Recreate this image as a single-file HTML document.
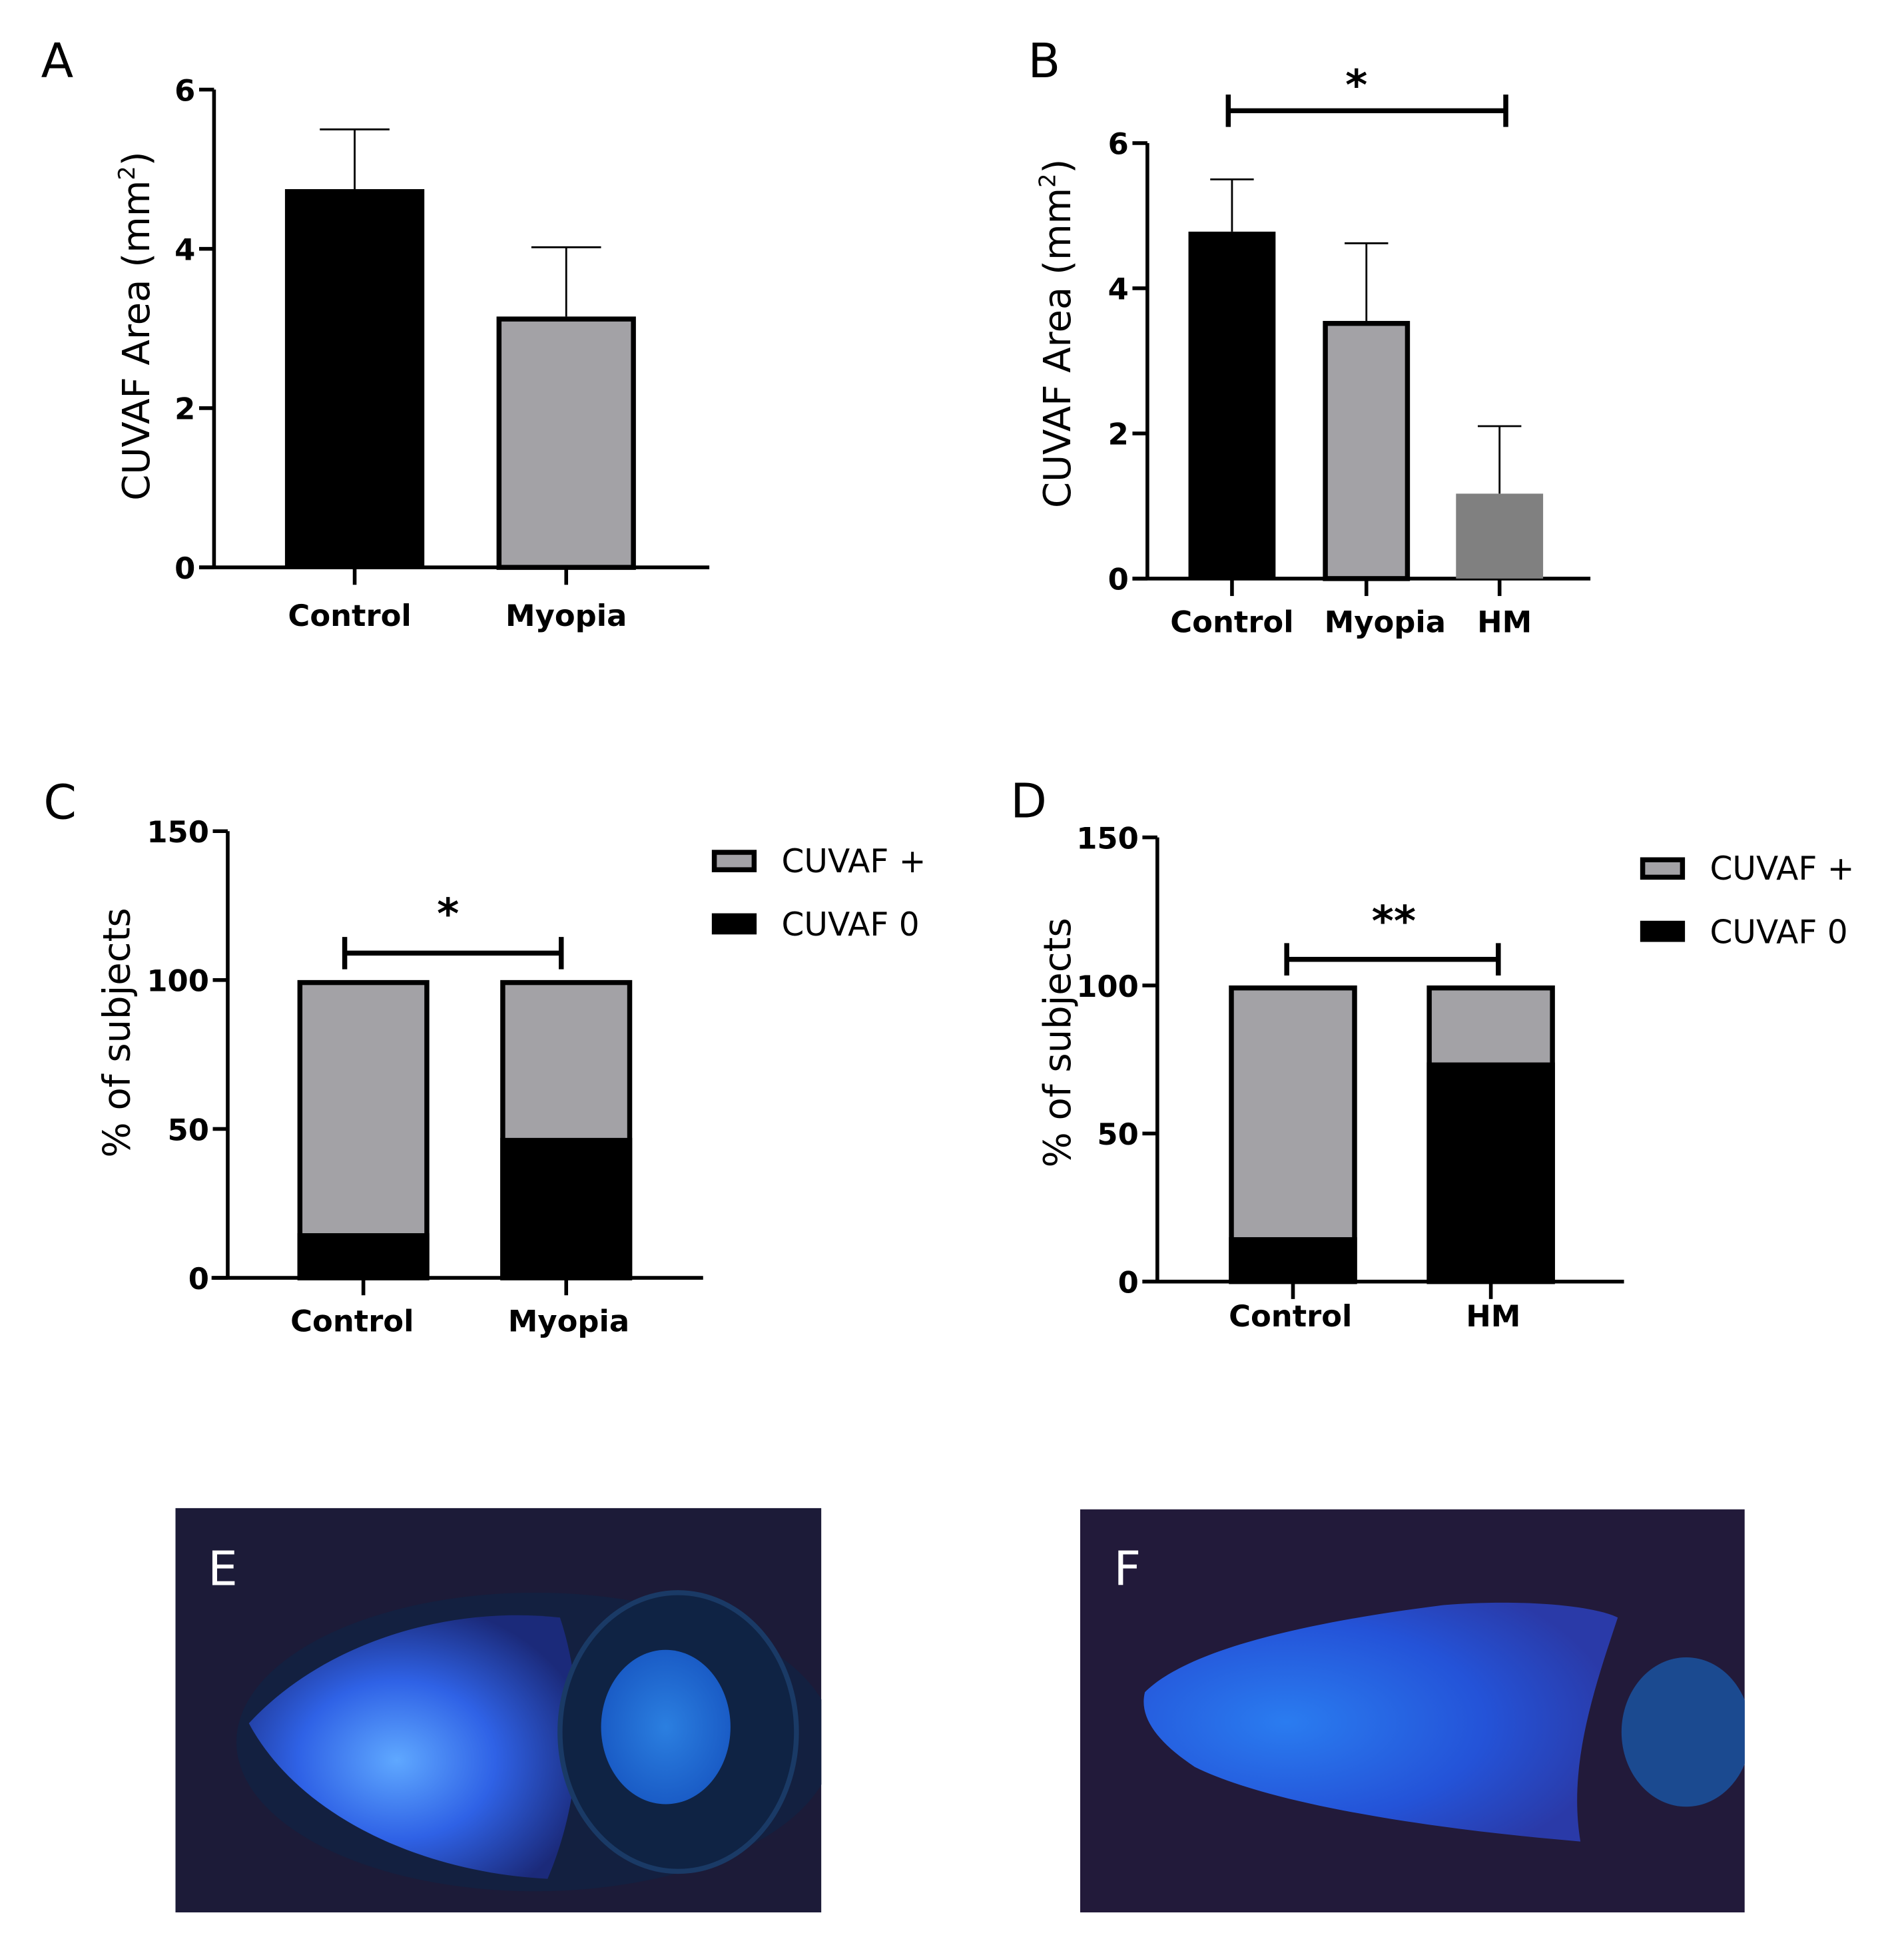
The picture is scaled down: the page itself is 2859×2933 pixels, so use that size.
<!DOCTYPE html>
<html><head><meta charset="utf-8"><style>
html,body{margin:0;padding:0;background:#fff;}
svg{display:block;font-family:"Liberation Sans","DejaVu Sans",sans-serif;}
.tick{font-weight:bold;font-size:24px;font-family:"DejaVu Sans","Liberation Sans",sans-serif;}
.cat{font-weight:bold;font-size:24px;font-family:"DejaVu Sans","Liberation Sans",sans-serif;}
.ytitle{font-size:30px;font-family:"DejaVu Sans","Liberation Sans",sans-serif;}
.panel{font-size:38px;font-family:"DejaVu Sans","Liberation Sans",sans-serif;}
.leg{font-size:26px;font-family:"DejaVu Sans","Liberation Sans",sans-serif;}
</style></head><body>
<svg id="fig" width="2859" height="2933" viewBox="0 0 1530 1569.6" xmlns="http://www.w3.org/2000/svg">
<defs>
<radialGradient id="gE" cx="0.45" cy="0.55" r="0.6">
<stop offset="0" stop-color="#5fa8ff"/><stop offset="0.5" stop-color="#2f62e6"/><stop offset="1" stop-color="#1b2a7a"/></radialGradient>
<radialGradient id="gE2" cx="0.5" cy="0.5" r="0.5">
<stop offset="0" stop-color="#2b7fe0"/><stop offset="1" stop-color="#1a5cc6"/></radialGradient>
<radialGradient id="gF" cx="0.3" cy="0.5" r="0.7">
<stop offset="0" stop-color="#2a7cf0"/><stop offset="0.6" stop-color="#2453d8"/><stop offset="1" stop-color="#2a3aa8"/></radialGradient>
<clipPath id="clipE"><rect x="141" y="1212" width="519" height="325"/></clipPath>
<clipPath id="clipF"><rect x="868" y="1213" width="534" height="324"/></clipPath>
</defs>
<g id="panels"></g>

<!-- Photo E -->
<g clip-path="url(#clipE)">
<rect x="141" y="1212" width="519" height="325" fill="#1c1b38"/>
<ellipse cx="430" cy="1400" rx="240" ry="120" fill="#132040"/>
<path d="M200,1385 C260,1320 360,1290 450,1300 C470,1360 470,1440 440,1510 C340,1505 240,1460 200,1385 Z" fill="url(#gE)"/>
<ellipse cx="545" cy="1392" rx="95" ry="112" fill="#0f2344" stroke="#1a3a66" stroke-width="4"/>
<ellipse cx="535" cy="1388" rx="52" ry="62" fill="url(#gE2)"/>
<text x="167" y="1274" class="panel" fill="#fff">E</text>
</g>
<!-- Photo F -->
<g clip-path="url(#clipF)">
<rect x="868" y="1213" width="534" height="324" fill="#221a3a"/>
<path d="M920,1360 C960,1320 1080,1300 1160,1290 C1220,1285 1280,1290 1300,1300 C1280,1360 1260,1420 1270,1480 C1150,1470 1020,1450 960,1420 C930,1400 915,1380 920,1360 Z" fill="url(#gF)"/>
<ellipse cx="1355" cy="1392" rx="52" ry="60" fill="#1b4a90"/>
<text x="895" y="1274" class="panel" fill="#fff">F</text>
</g>
</svg>
<script>
// Panel A data
const aCats = ["Control","Myopia"];
const aMeans = [4.75, 3.15];
const aErr = [5.5, 4.02];
const aTicks = [0,2,4,6];
// Panel B data
const bCats = ["Control","Myopia","HM"];
const bMeans = [4.78, 3.55, 1.17];
const bErr = [5.5, 4.62, 2.1];
const bTicks = [0,2,4,6];
// Panel C data
const cCats = ["Control","Myopia"];
const cZero = [15, 47];
const cPlus = [85, 53];
const cTicks = [0,50,100,150];
// Panel D data
const dCats = ["Control","HM"];
const dZero = [15, 74];
const dPlus = [85, 26];
const dTicks = [0,50,100,150];
const legendLabels = ["CUVAF +","CUVAF 0"];

const NS="http://www.w3.org/2000/svg";
const root=document.getElementById('panels');
function mk(tag,attrs,parent,text){const e=document.createElementNS(NS,tag);for(const k in attrs)e.setAttribute(k,attrs[k]);if(text!==undefined)e.textContent=text;(parent||root).appendChild(e);return e;}

function axes(g,cfg){
  const y=v=>cfg.y0-(v-0)/(cfg.max)*(cfg.y0-cfg.yTop);
  let l=mk('line',{x1:cfg.ax,y1:cfg.yTop,x2:cfg.ax,y2:cfg.y0,stroke:'#000','stroke-width':3},g);
  
  
  l=mk('line',{x1:cfg.xa0,y1:cfg.y0,x2:cfg.xa1,y2:cfg.y0,stroke:'#000','stroke-width':3},g);
  
  
  cfg.ticks.forEach(t=>{
    const tl=mk('line',{x1:cfg.ax-12,y1:y(t),x2:cfg.ax,y2:y(t),stroke:'#000','stroke-width':3},g);
    
    
    const tx=mk('text',{x:cfg.ax-15,y:y(t)+9,'text-anchor':'end',class:'tick'},g,String(t));
    
    
  });
  cfg.cats.forEach((c,i)=>{
    const cx=cfg.cx[i];
    const tl=mk('line',{x1:cx,y1:cfg.y0,x2:cx,y2:cfg.y0+14,stroke:'#000','stroke-width':3},g);
    
    
    const tx=mk('text',{x:cfg.lcx?cfg.lcx[i]:cx,y:cfg.labY,'text-anchor':'middle',class:'cat'},g,c);
    
    
  });
  const yt=mk('text',{x:0,y:0,'text-anchor':'middle',class:'ytitle',transform:`translate(${cfg.titleX},${cfg.titleY}) rotate(-90)`},g);
  
  
  if(cfg.area){yt.textContent='CUVAF Area (mm';mk('tspan',{'font-size':'18','dy':'-12'},yt,'2');mk('tspan',{'dy':'12'},yt,')');}
  else yt.textContent='% of subjects';
  const pl=mk('text',{x:cfg.lx,y:cfg.ly,class:'panel'},g,cfg.letter);
  
  
  return y;
}

function barPanel(name,cfg,means,errs,fills,borders){
  const g=mk('g',{});
  
  
  const y=axes(g,cfg);
  means.forEach((m,i)=>{
    const cx=cfg.cx[i],w=cfg.bw;
    const e=mk('line',{x1:cx,y1:y(errs[i]),x2:cx,y2:y(m),stroke:'#000','stroke-width':1.5},g);
    
    
    const c=mk('line',{x1:cx-w*0.25,y1:y(errs[i]),x2:cx+w*0.25,y2:y(errs[i]),stroke:'#000','stroke-width':1.5},g);
    
    
    const b=borders[i]?4:0;
    const r=mk('rect',{x:cx-w/2+b/2,y:y(m)+b/2,width:w-b,height:y(0)-y(m)-b/2,fill:fills[i],stroke:borders[i]?'#000':'none','stroke-width':b},g);
    
    
  });
  return {g,y};
}

function sig(g,x1,x2,yy,label,sx,sy){
  const l=mk('path',{d:`M${x1},${yy-13}V${yy+13}M${x1},${yy}H${x2}M${x2},${yy-13}V${yy+13}`,stroke:'#000','stroke-width':4,fill:'none'},g);
  
  
  const t=mk('text',{x:sx,y:sy,'text-anchor':'middle','font-size':'34','font-weight':'bold','font-family':'DejaVu Sans, sans-serif'},g,label);
  
  
}

function stackPanel(name,cfg,zero,plus){
  const g=mk('g',{});
  
  
  const y=axes(g,cfg);
  zero.forEach((z,i)=>{
    const cx=cfg.cx[i],w=cfg.bw,b=4;
    const top=z+plus[i];
    const o=mk('rect',{x:cx-w/2+b/2,y:y(top)+b/2,width:w-b,height:y(0)-y(top)-b/2,fill:'#a3a2a6',stroke:'#000','stroke-width':b},g);
    
    
    const r=mk('rect',{x:cx-w/2,y:y(z),width:w,height:y(0)-y(z),fill:'#000'},g);
    
    
  });
  const L=cfg.leg;
  const lg=mk('g',{},g);
  
  
  const b1=mk('rect',{x:L.x+2,y:L.y1+2,width:32,height:14,fill:'#a3a2a6',stroke:'#000','stroke-width':4},lg);
  
  
  const t1=mk('text',{x:L.x+56,y:L.y1+18,class:'leg'},lg,legendLabels[0]);
  
  
  const b2=mk('rect',{x:L.x,y:L.y2,width:36,height:17,fill:'#000'},lg);
  
  
  const t2=mk('text',{x:L.x+56,y:L.y2+18,class:'leg'},lg,legendLabels[1]);
  
  
  return {g,y};
}

barPanel('panel-a-chart',{ax:172,yTop:72,y0:456,max:6,xa0:160,xa1:570,ticks:aTicks,cats:aCats,cx:[285,455],lcx:[281,455],bw:112,labY:503,titleX:120,titleY:262,area:true,lx:33,ly:62,letter:'A'},
  aMeans,aErr,['#000','#a3a2a6'],[false,true]);

const B=barPanel('panel-b-chart',{ax:922,yTop:115,y0:465,max:6,xa0:910,xa1:1278,ticks:bTicks,cats:bCats,cx:[990,1098,1205],lcx:[990,1113,1209],bw:70,labY:508,titleX:860,titleY:268,area:true,lx:826,ly:62,letter:'B'},
  bMeans,bErr,['#000','#a3a2a6','#808080'],[false,true,false]);
sig(B.g,987,1210,89,'*',1090,80);

const C=stackPanel('panel-c-chart',{ax:183,yTop:668,y0:1027,max:150,xa0:170,xa1:565,ticks:cTicks,cats:cCats,cx:[292,455],lcx:[283,457],bw:106,labY:1070,titleX:104,titleY:830,lx:35,ly:658,letter:'C',leg:{x:572,y1:683,y2:734}},cZero,cPlus);
sig(C.g,277,451,766,'*',360,746);

const D=stackPanel('panel-d-chart',{ax:930,yTop:673,y0:1030,max:150,xa0:918,xa1:1305,ticks:dTicks,cats:dCats,cx:[1039,1198],lcx:[1037,1200],bw:103,labY:1066,titleX:860,titleY:838,lx:812,ly:657,letter:'D',leg:{x:1318,y1:689,y2:740}},dZero,dPlus);
sig(D.g,1034,1204,771,'**',1120,752);
</script>
</body></html>
